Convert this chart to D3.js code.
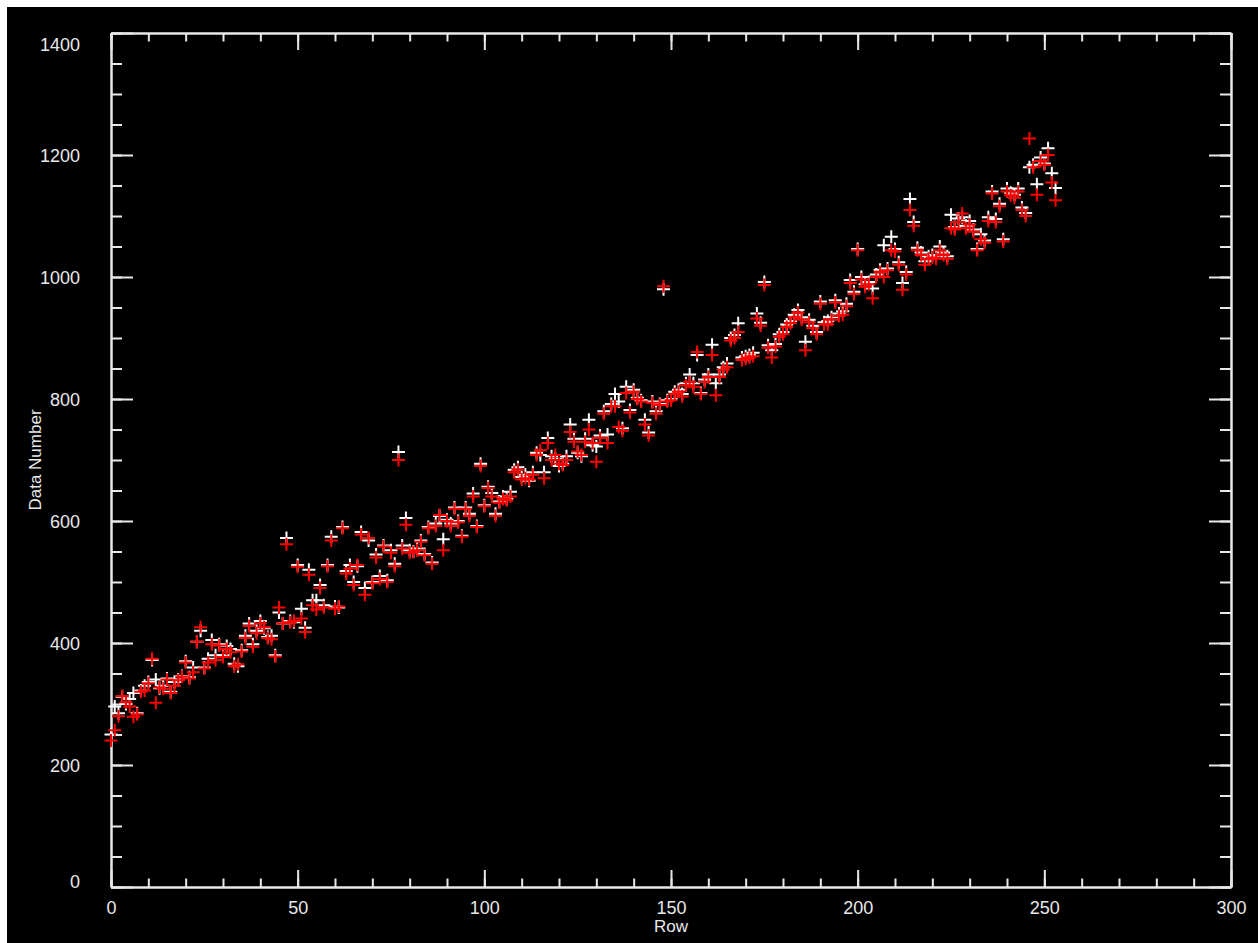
<!DOCTYPE html>
<html><head><meta charset="utf-8">
<script src="https://cdn.jsdelivr.net/npm/d3@7"></script>
<style>
html,body{margin:0;padding:0;background:#fff;}
svg{display:block;}
</style></head>
<body>
<svg id="chart" width="1258" height="943"></svg>
<script>
// ---- data ----
const xTicks = [0, 50, 100, 150, 200, 250, 300];
const yTicks = [0, 200, 400, 600, 800, 1000, 1200, 1400];
const xLabel = "Row";
const yLabel = "Data Number";
const whiteSeries = [
250,296,285,312,300,308,318,285,322,330,
336,372,340,326,330,342,320,336,340,346,
370,344,360,402,420,360,374,405,380,398,
380,395,390,366,362,388,412,432,398,420,
436,424,410,412,380,450,432,572,436,434,
528,456,425,520,470,470,495,462,528,574,
460,458,590,518,528,500,526,582,490,568,
500,545,510,560,503,552,530,713,560,605,
552,550,555,568,546,590,532,596,608,570,
602,596,622,600,576,622,612,645,592,694,
626,656,646,612,632,640,636,648,684,688,
672,676,666,680,712,708,680,736,706,702,
690,694,706,758,735,712,706,735,766,724,
722,740,780,742,792,808,796,752,820,782,
815,802,798,766,745,796,780,792,980,798,
800,812,815,808,826,840,826,872,810,832,
840,889,826,840,852,858,900,905,924,868,
870,872,876,940,925,992,888,880,890,906,
910,922,928,938,946,934,894,930,920,910,
960,926,928,934,962,940,944,956,995,976,
1046,1000,988,992,981,1004,1012,1052,1014,1066,
1046,1024,990,1008,1128,1090,1048,1040,1026,1034,
1036,1034,1050,1040,1034,1102,1082,1096,1098,1084,
1092,1078,1046,1070,1060,1098,1140,1095,1120,1062,
1145,1138,1135,1145,1114,1105,1180,1184,1152,1196,
1186,1211,1170,1146];
const redSeries = [
240,257,280,313,303,296,279,283,320,322,
334,374,302,327,325,340,318,330,339,345,
368,342,352,402,426,358,368,398,372,396,
377,390,385,362,365,386,408,428,394,416,
432,426,408,406,378,458,432,562,434,436,
525,440,418,512,462,455,490,458,526,568,
456,460,588,514,522,495,528,578,479,572,
498,540,505,558,500,548,526,700,555,594,
548,549,552,566,544,588,530,592,610,552,
600,592,620,598,574,620,608,640,590,690,
624,654,640,608,630,636,634,640,680,684,
668,670,668,676,708,716,670,728,700,708,
694,692,700,746,730,714,708,730,750,728,
697,736,776,728,788,788,754,748,810,778,
812,800,796,758,740,794,776,790,985,796,
798,808,812,804,822,828,820,877,808,828,
836,872,806,836,848,852,896,900,910,864,
866,868,870,932,920,987,884,868,886,902,
906,918,924,934,942,930,880,926,916,906,
956,922,922,930,958,936,938,952,990,972,
1044,996,984,988,965,1000,1008,1000,1011,1044,
1042,1020,979,1004,1110,1084,1044,1036,1020,1030,
1032,1030,1044,1036,1030,1080,1078,1090,1104,1080,
1086,1074,1044,1062,1056,1092,1137,1090,1116,1058,
1140,1134,1130,1140,1110,1100,1227,1180,1135,1190,
1184,1200,1155,1126];

// ---- layout ----
const svg = d3.select("#chart");
const L = 111, R = 1231, T = 33, B = 887;
const axisColor = "#e8e8e8";
const font = "'Liberation Sans', Arial, sans-serif";

svg.append("rect").attr("x", 7).attr("y", 7).attr("width", 1258 - 7).attr("height", 943 - 7).attr("fill", "#000");

const x = d3.scaleLinear().domain([0, 300]).range([L, R]);
const y = d3.scaleLinear().domain([0, 1400]).range([B, T]);

const xMinor = d3.range(0, 301, 10);
const yMinor = d3.range(0, 1401, 50);

function styleAxis(g) {
  g.select(".domain").attr("stroke", axisColor).attr("stroke-width", 2);
  g.selectAll(".tick line").attr("stroke", axisColor).attr("stroke-width", 2);
  g.selectAll(".tick text").attr("fill", axisColor).attr("font-family", font).attr("font-size", 18);
}

// bottom axis: major + minor (ticks point inward)
const gB = svg.append("g").attr("transform", `translate(0,${B})`)
  .call(d3.axisBottom(x).tickValues(xTicks).tickSize(-17).tickPadding(27).tickSizeOuter(0).tickFormat(d3.format("d")));
styleAxis(gB);
gB.selectAll(".tick text").attr("dy", "0");
const gBm = svg.append("g").attr("transform", `translate(0,${B})`)
  .call(d3.axisBottom(x).tickValues(xMinor).tickSize(-8.5).tickSizeOuter(0).tickFormat(""));
styleAxis(gBm);

// top axis
const gT = svg.append("g").attr("transform", `translate(0,${T})`)
  .call(d3.axisTop(x).tickValues(xTicks).tickSize(-17).tickSizeOuter(0).tickFormat(""));
styleAxis(gT);
const gTm = svg.append("g").attr("transform", `translate(0,${T})`)
  .call(d3.axisTop(x).tickValues(xMinor).tickSize(-8.5).tickSizeOuter(0).tickFormat(""));
styleAxis(gTm);

// left axis
const gL = svg.append("g").attr("transform", `translate(${L},0)`)
  .call(d3.axisLeft(y).tickValues(yTicks).tickSize(-22).tickPadding(31).tickSizeOuter(0).tickFormat(d3.format("d")));
styleAxis(gL);
gL.selectAll(".tick text").attr("dy", d => d === 1400 ? "0.95em" : (d === 0 ? "0.05em" : "0.36em"));
const gLm = svg.append("g").attr("transform", `translate(${L},0)`)
  .call(d3.axisLeft(y).tickValues(yMinor).tickSize(-11).tickSizeOuter(0).tickFormat(""));
styleAxis(gLm);

// right axis
const gR = svg.append("g").attr("transform", `translate(${R},0)`)
  .call(d3.axisRight(y).tickValues(yTicks).tickSize(-22).tickSizeOuter(0).tickFormat(""));
styleAxis(gR);
const gRm = svg.append("g").attr("transform", `translate(${R},0)`)
  .call(d3.axisRight(y).tickValues(yMinor).tickSize(-11).tickSizeOuter(0).tickFormat(""));
styleAxis(gRm);

// axis titles
svg.append("text").attr("x", (L + R) / 2).attr("y", 932).attr("text-anchor", "middle")
  .attr("fill", axisColor).attr("font-family", font).attr("font-size", 17).text(xLabel);
svg.append("text").attr("transform", `translate(41,${(T + B) / 2}) rotate(-90)`).attr("text-anchor", "middle")
  .attr("fill", axisColor).attr("font-family", font).attr("font-size", 17).text(yLabel);

// plus markers
const plus = d3.symbol().type(d3.symbolCross);
function drawPlus(data, color) {
  const g = svg.append("g");
  const h = 6.5;
  g.selectAll("path").data(data).join("path")
    .attr("d", (d, i) => {
      const px = x(i), py = y(d);
      return `M${px - h},${py}H${px + h}M${px},${py - h}V${py + h}`;
    })
    .attr("stroke", color).attr("stroke-width", 2).attr("fill", "none");
}
drawPlus(whiteSeries, "#ffffff");
drawPlus(redSeries, "#ff0000");
</script>
</body></html>
